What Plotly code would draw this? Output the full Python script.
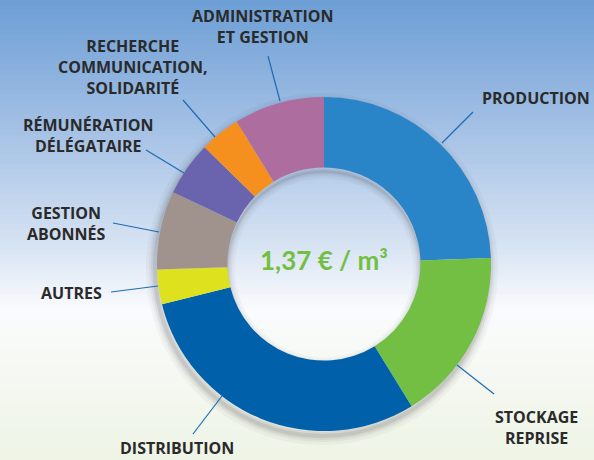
import plotly.graph_objects as go

W, H = 594, 460

# ---- data (€/m³) ----
categories = ["PRODUCTION", "STOCKAGE REPRISE", "DISTRIBUTION", "AUTRES",
              "GESTION ABONNÉS", "RÉMUNÉRATION DÉLÉGATAIRE",
              "RECHERCHE COMMUNICATION, SOLIDARITÉ", "ADMINISTRATION ET GESTION"]
values = [0.335, 0.230, 0.410, 0.046, 0.104, 0.072, 0.054, 0.120]
colors = ["#2A84C8", "#72BF44", "#0060AA", "#DDE11E",
          "#A0938E", "#6A64AE", "#F5901E", "#AD6E9F"]
label_texts = ["PRODUCTION", "STOCKAGE<br>REPRISE", "DISTRIBUTION", "AUTRES",
               "GESTION<br>ABONNÉS", "RÉMUNÉRATION<br>DÉLÉGATAIRE",
               "RECHERCHE<br>COMMUNICATION,<br>SOLIDARITÉ",
               "ADMINISTRATION<br>ET GESTION"]
center_text = "1,37 € / m³"

# ---- layout helpers (pixel -> paper) ----
def px(x):
    return x / W

def py(y):
    return 1 - y / H

cx, cy, R = 324, 264, 167
HOLE = 0.578
r_in = R * HOLE

fig = go.Figure()
fig.add_trace(go.Pie(
    labels=categories, values=values, hole=HOLE, sort=False,
    direction="clockwise", rotation=0,
    marker=dict(colors=colors, line=dict(width=0)),
    textinfo="none", hoverinfo="label+value", showlegend=False,
    domain=dict(x=[px(cx - R), px(cx + R)], y=[py(cy + R), py(cy - R)]),
))

shapes = []
# background gradient: blue top -> white middle -> light green bottom
stops = [(0, (108, 158, 213)), (120, (160, 190, 228)), (240, (212, 225, 242)),
         (310, (250, 251, 253)), (360, (246, 249, 244)), (460, (238, 244, 230))]
n = 92
for i in range(n):
    y0 = i * H / n
    y1 = (i + 1) * H / n
    ym = (y0 + y1) / 2
    for k in range(len(stops) - 1):
        if stops[k][0] <= ym <= stops[k + 1][0]:
            t = (ym - stops[k][0]) / (stops[k + 1][0] - stops[k][0])
            c = [round(stops[k][1][j] + t * (stops[k + 1][1][j] - stops[k][1][j])) for j in range(3)]
            break
    shapes.append(dict(type="rect", xref="paper", yref="paper",
                       x0=0, x1=1, y0=py(y1) - 0.001, y1=py(y0) + 0.001,
                       fillcolor=f"rgb({c[0]},{c[1]},{c[2]})", line=dict(width=0),
                       layer="below"))

# soft shadows: rings offset downward, partly hidden by the donut
def ring(r, ox, oy, width, alpha):
    return dict(type="circle", xref="paper", yref="paper",
                x0=px(cx + ox - r), x1=px(cx + ox + r),
                y0=py(cy + oy + r), y1=py(cy + oy - r),
                fillcolor="rgba(0,0,0,0)",
                line=dict(color=f"rgba(50,50,60,{alpha})", width=width),
                layer="below")

for w, a in [(18, 0.04), (12, 0.05), (8, 0.07), (4, 0.10)]:
    shapes.append(ring(R, -2, 5, w, a))
for w, a in [(14, 0.04), (9, 0.05), (5, 0.07), (2, 0.09)]:
    shapes.append(ring(r_in, 0, 4, w, a))

# leader lines (start near label, end on ring)
leaders = [
    ((473, 112), (442, 143)),   # production
    ((494, 394), (457, 365)),   # stockage
    ((193, 434), (222, 396)),   # distribution
    ((111, 292), (158, 286)),   # autres
    ((113, 223), (159, 232)),   # gestion abonnés
    ((146, 150), (184, 173)),   # rémunération
    ((183, 100), (215, 137)),   # recherche
    ((268, 56), (280, 101)),    # administration
]
for (x0, y0), (x1, y1) in leaders:
    shapes.append(dict(type="line", xref="paper", yref="paper",
                       x0=px(x0), y0=py(y0), x1=px(x1), y1=py(y1),
                       line=dict(color="#1C6DB4", width=1.2)))

# label anchor positions (pixel)
label_pos = [
    (536, 98),
    (536, 427),
    (177, 448),
    (71, 293),
    (66, 223),
    (88, 135),
    (133, 67),
    (263, 27),
]
font = dict(family="Open Sans, sans-serif", size=16, color="#2A2A2A")
annotations = []
for txt, (x, y) in zip(label_texts, label_pos):
    annotations.append(dict(text=f"<b>{txt}</b>", x=px(x), y=py(y),
                            xref="paper", yref="paper", showarrow=False,
                            xanchor="center", yanchor="middle", align="center",
                            font=font))
annotations.append(dict(text=f"<b>{center_text}</b>", x=px(cx), y=py(260),
                        xref="paper", yref="paper", showarrow=False,
                        xanchor="center", yanchor="middle",
                        font=dict(family="Lato, Open Sans, sans-serif", size=26,
                                  color="#72BF44")))

fig.update_layout(width=W, height=H, margin=dict(l=0, r=0, t=0, b=0),
                  paper_bgcolor="white", plot_bgcolor="rgba(0,0,0,0)",
                  shapes=shapes, annotations=annotations)
fig.write_html("out.html", config={"displayModeBar": False},
               post_script="document.body.style.margin='0';document.body.style.overflow='hidden';")
